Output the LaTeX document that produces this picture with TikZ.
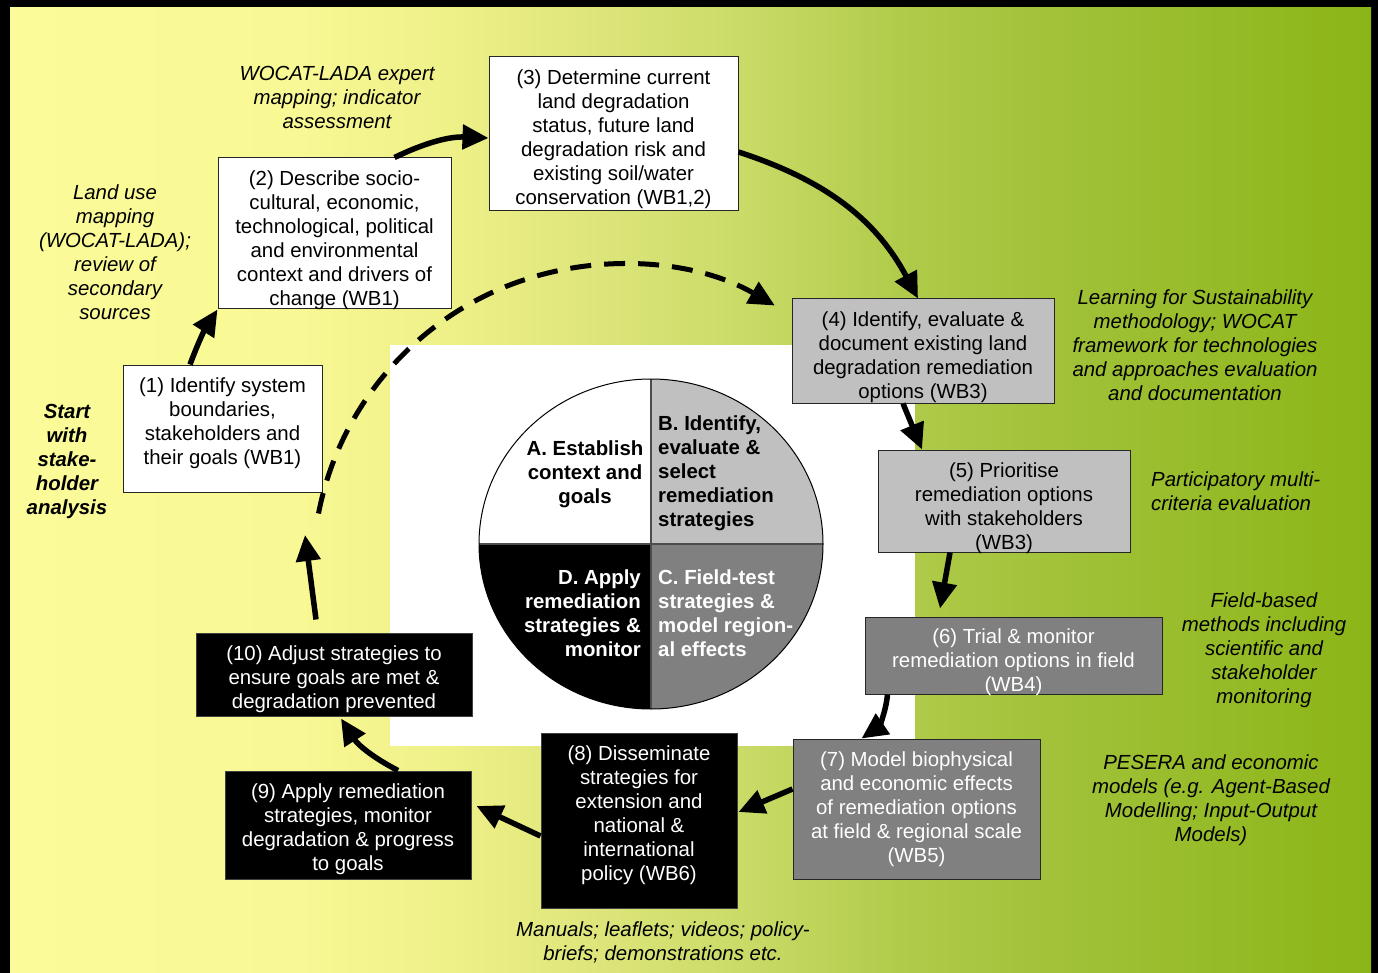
\documentclass[tikz,border=0pt]{standalone}
\usepackage{fontspec}
\setmainfont{Liberation Sans}
\usetikzlibrary{arrows.meta}
\definecolor{lgray}{HTML}{C0C0C0}
\definecolor{dgray}{HTML}{808080}
\definecolor{gA}{HTML}{FBFB99}
\definecolor{gB}{HTML}{F8F894}
\definecolor{gC}{HTML}{EEF088}
\definecolor{gD}{HTML}{DDE57A}
\definecolor{gE}{HTML}{C9DA66}
\definecolor{gF}{HTML}{B0CB4A}
\definecolor{gG}{HTML}{A2C23A}
\definecolor{gH}{HTML}{8BB517}
\pgfdeclarehorizontalshading{bgshade}{100bp}{color(0bp)=(gA); color(25bp)=(gA); color(35.65bp)=(gB); color(41.16bp)=(gC); color(46.67bp)=(gD); color(52.19bp)=(gE); color(57.7bp)=(gF); color(63.2bp)=(gG); color(75bp)=(gH); color(100bp)=(gH)}
\newcommand\myfs{\fontsize{20.4}{24}\selectfont}
\tikzset{
  box/.style={draw=black!85, line width=1pt, align=center, inner xsep=0pt, inner ysep=-8pt, font=\myfs},
  wbox/.style={box, fill=white, text=black},
  lbox/.style={box, fill=lgray, text=black},
  dbox/.style={box, fill=dgray, text=white},
  kbox/.style={box, fill=black, draw=black!75, text=white},
  note/.style={align=center, inner sep=0pt, font=\myfs\itshape},
  ctext/.style={inner sep=0pt, font=\myfs\bfseries},
  arr/.style={line width=5.5pt, -{Triangle[length=26pt,width=24pt]}},
  darr/.style={line width=5pt, dash pattern=on 21pt off 13pt, -{Triangle[length=26pt,width=24pt]}}
}
\begin{document}
\begin{tikzpicture}[x=1pt,y=1pt]
\useasboundingbox (0,0) rectangle (1378,-973);
% background
\fill[black] (0,0) rectangle (1378,-973);
\shade[shading=bgshade] (10,-8) rectangle (1371,-973);
\fill[white] (390,-345) rectangle (915,-746);

% central circle
\coordinate (cc) at (651,-544);
\fill[white] (cc) -- ++(-172,0) arc[start angle=180,end angle=90,x radius=172,y radius=165] -- cycle;
\fill[lgray] (cc) -- ++(0,165) arc[start angle=90,end angle=0,x radius=172,y radius=165] -- cycle;
\fill[dgray] (cc) -- ++(172,0) arc[start angle=0,end angle=-90,x radius=172,y radius=165] -- cycle;
\fill[black] (cc) -- ++(0,-165) arc[start angle=-90,end angle=-180,x radius=172,y radius=165] -- cycle;
\draw[black!70, line width=1.5pt] ([xshift=-172pt]cc) -- ([xshift=172pt]cc);
\draw[black!70, line width=1.5pt] ([yshift=165pt]cc) -- ([yshift=-165pt]cc);
\draw[black, line width=1pt] (cc) ellipse[x radius=172, y radius=165];

\node[ctext, align=center, anchor=center] (qa) at (585,-474) {A. Establish\\context and\\goals};
\node[ctext, align=left, anchor=west] (qb) at (658,-473) {B. Identify,\\evaluate \&\\select\\remediation\\strategies};
\node[ctext, align=right, anchor=east, text=white] (qd) at (641,-613) {D. Apply\\remediation\\strategies \&\\monitor};
\node[ctext, align=left, anchor=west, text=white] (qc) at (658,-613) {C. Field-test\\strategies \&\\model region-\\al effects};

% boxes
\node[wbox, minimum width=199pt, minimum height=127pt] (b1) at (222.5,-428.5) {(1) Identify system\\boundaries,\\stakeholders and\\their goals (WB1)\\[-10pt]\mbox{}};
\node[wbox, minimum width=233pt, minimum height=151pt] (b2) at (334.5,-233.5) {\mbox{}\\[5pt](2) Describe socio-\\cultural, economic,\\technological, political\\and environmental\\context and drivers of\\change (WB1)};
\node[wbox, minimum width=249pt, minimum height=154pt] (b3) at (613.5,-134) {\mbox{}\\[1pt](3) Determine current\\land degradation\\status, future land\\degradation risk and\\existing soil/water\\conservation (WB1,2)};
\node[lbox, minimum width=262pt, minimum height=104pt] (b4) at (923,-351) {\mbox{}\\[3pt](4) Identify, evaluate \&\\document existing land\\degradation remediation\\options (WB3)};
\node[lbox, minimum width=252pt, minimum height=102pt] (b5) at (1004,-501) {\mbox{}\\[5pt](5) Prioritise\\remediation options\\with stakeholders\\(WB3)};
\node[dbox, minimum width=297pt, minimum height=77pt] (b6) at (1013.5,-655.5) {\mbox{}\\[5pt](6) Trial \& monitor\\remediation options in field\\(WB4)};
\node[dbox, minimum width=247pt, minimum height=140pt] (b7) at (916.5,-809) {(7) Model biophysical\\and economic effects\\of remediation options\\at field \& regional scale\\(WB5)};
\node[kbox, minimum width=196pt, minimum height=175pt] (b8) at (639,-820.5) {(8) Disseminate\\strategies for\\extension and\\national \&\\international\\policy (WB6)\\[-10pt]\mbox{}};
\node[kbox, minimum width=246pt, minimum height=108pt] (b9) at (348,-825) {\mbox{}\\[-1pt](9) Apply remediation\\strategies, monitor\\degradation \& progress\\to goals};
\node[kbox, minimum width=276pt, minimum height=83pt] (b10) at (334,-674.5) {\mbox{}\\[1pt](10) Adjust strategies to\\ensure goals are met \&\\degradation prevented};

% annotations
\node[note] (n1) at (337,-97) {WOCAT-LADA expert\\mapping; indicator\\assessment};
\node[note] (n2) at (115,-252) {Land use\\mapping\\(WOCAT-LADA);\\review of\\secondary\\sources};
\node[note, font=\myfs\itshape\bfseries] (n0) at (67,-461) {Start\\with\\stake-\\holder\\analysis};
\node[note] (n4) at (1195,-345) {Learning for Sustainability\\methodology; WOCAT\\framework for technologies\\and approaches evaluation\\and documentation};
\node[note, align=left, anchor=west] (n5) at (1151,-491) {Participatory multi-\\criteria evaluation};
\node[note] (n6) at (1264,-650) {Field-based\\methods including\\scientific and\\stakeholder\\monitoring};
\node[note] (n7) at (1211,-800) {PESERA and economic\\models (e.g. Agent-Based\\Modelling; Input-Output\\Models)};
\node[note] (n8) at (663,-942) {Manuals; leaflets; videos; policy-\\briefs; demonstrations etc.};

% connectors
\draw[arr] ([xshift=-32.5pt]b1.north) to[bend left=6] (b2.south west);
\draw[arr] ([xshift=60pt]b2.north) to[bend left=14] ([yshift=-4pt]b3.west);
\draw[arr] ([yshift=-18pt]b3.east) to[out=-18, in=118] ([xshift=-5pt]b4.north);
\draw[arr] ([xshift=-20pt]b4.south) -- ([xshift=-82pt]b5.north);
\draw[arr] ([xshift=-54pt]b5.south) -- ([xshift=-73.5pt,yshift=8pt]b6.north);
\draw[arr] ([xshift=23pt]b6.south west) to[bend left=25] ([xshift=69pt]b7.north west);
\draw[arr] ([yshift=20pt]b7.west) -- ([xshift=1pt,yshift=8.5pt]b8.east);
\draw[arr] ([yshift=-15.5pt]b8.west) -- ([xshift=5pt,yshift=19pt]b9.east);
\draw[arr] ([xshift=50pt]b9.north) to[bend left=15] ([xshift=7pt,yshift=-2pt]b10.south);
\coordinate (up10) at (305,-535);
\draw[arr] ([xshift=-18pt,yshift=13pt]b10.north) -- (up10);
\coordinate (dstart) at ([xshift=-4pt,yshift=-21pt]b1.south east);
\draw[darr] (dstart) arc[start angle=169, end angle=60, radius=308];
\end{tikzpicture}
\end{document}
